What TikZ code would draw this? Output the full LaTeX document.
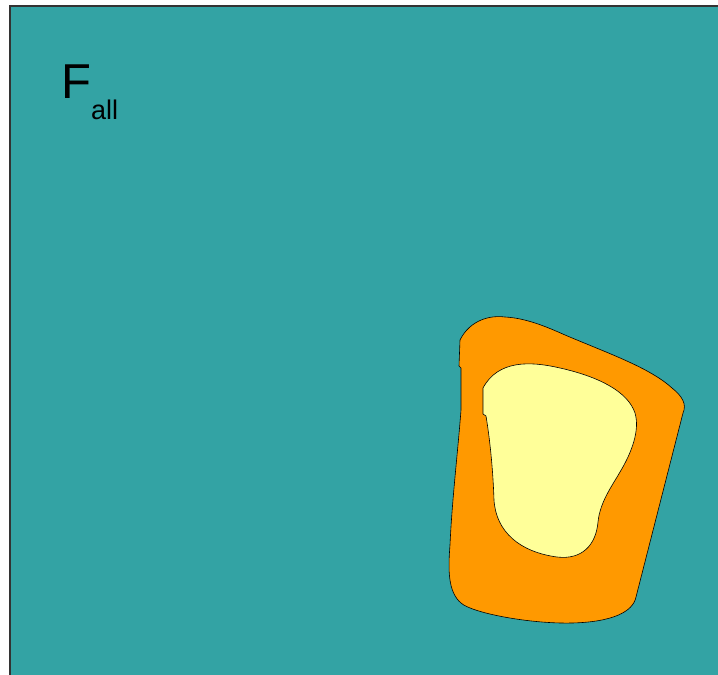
\documentclass[tikz,border=0pt]{standalone}
\usepackage{xcolor}
\definecolor{sea}{HTML}{33A3A4}
\definecolor{amber}{HTML}{FF9900}
\definecolor{cream}{HTML}{FFFF99}
\usepackage{fontspec}
\setmainfont{Liberation Sans}
\usepackage{tikz}

\begin{document}
\begin{tikzpicture}[
  x=1pt,y=-1pt,
  field/.style={draw=black!80,line width=1.2pt,fill=sea},
  blob/.style={draw=black,line width=0.6pt},
  lbl/.style={inner sep=0,anchor=base west}
]
\useasboundingbox (0,0) rectangle (718,675);
\clip (0,0) rectangle (718,675);
% the whole set
\draw[field] (10,6) rectangle (740,700);
\node[lbl] (fall) at (61,98) {\fontsize{49}{60}\selectfont F\fontsize{27}{35}\selectfont\raisebox{-21pt}{all}};
% outer region
\draw[blob,fill=amber] (460,340) .. controls (470,320) and (490,315) .. (505,317)
  .. controls (525,318) and (545,326) .. (565,335)
  .. controls (610,354) and (650,368) .. (672,388)
  .. controls (682,396) and (687,404) .. (683,413)
  -- (636,597) .. controls (633,612) and (612,622) .. (572,623)
  .. controls (530,624) and (472,613) .. (461,603)
  .. controls (448,592) and (448,570) .. (450,545)
  .. controls (452,500) and (458,450) .. (461,410)
  -- (461,368) -- (459,366) -- cycle;
% inner region
\draw[blob,fill=cream] (483,388) -- (483,414) -- (486,416)
  .. controls (490,440) and (493,470) .. (494,500)
  .. controls (496,532) and (520,552) .. (557,557)
  .. controls (582,560) and (596,545) .. (598,522)
  .. controls (600,502) and (612,486) .. (620,472)
  .. controls (632,452) and (640,430) .. (635,413)
  .. controls (628,392) and (600,377) .. (560,368)
  .. controls (530,361) and (498,360) .. (483,388) -- cycle;
\end{tikzpicture}
\end{document}
